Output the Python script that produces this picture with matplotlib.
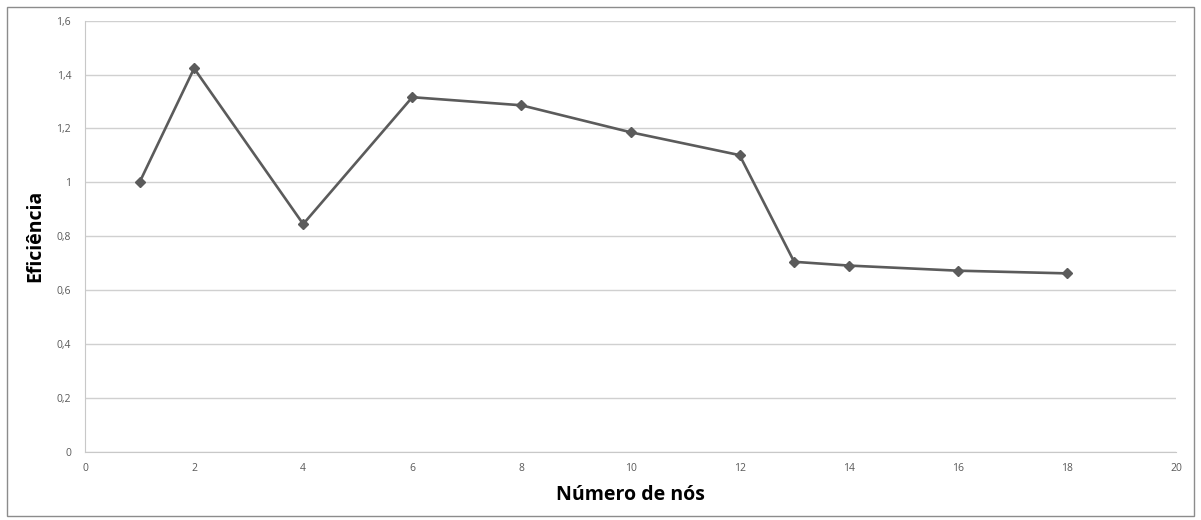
import matplotlib
matplotlib.use("Agg")
import matplotlib.pyplot as plt
from matplotlib.patches import Rectangle

nodes = [1, 2, 4, 6, 8, 10, 12, 13, 14, 16, 18]
efficiency = [1.0, 1.423, 0.845, 1.316, 1.286, 1.186, 1.101, 0.705, 0.691, 0.672, 0.662]
xticks = [0, 2, 4, 6, 8, 10, 12, 14, 16, 18, 20]
yticks = [0, 0.2, 0.4, 0.6, 0.8, 1.0, 1.2, 1.4, 1.6]
ytick_labels = ["0", "0,2", "0,4", "0,6", "0,8", "1", "1,2", "1,4", "1,6"]

plt.rcParams['font.family'] = ['Open Sans', 'DejaVu Sans']

fig = plt.figure(figsize=(12.01, 5.2), dpi=100)
fig.patches.append(Rectangle((7/1201, 4/520), 1187/1201, 509/520, transform=fig.transFigure,
                             fill=False, edgecolor='#8c8c8c', linewidth=1.0))
ax = fig.add_axes([85/1201, (520-451.7)/520, (1176-85)/1201, (451.7-20.7)/520])

ax.plot(nodes, efficiency, color='#5b5b5b', linewidth=1.9, marker='D', markersize=5.5,
        markerfacecolor='#5b5b5b', markeredgecolor='#5b5b5b', zorder=3)

ax.set_xlim(0, 20)
ax.set_ylim(0, 1.6)
ax.set_xticks(xticks)
ax.set_xticklabels([str(t) for t in xticks])
ax.set_yticks(yticks)
ax.set_yticklabels(ytick_labels)
ax.tick_params(axis='both', length=0, labelsize=7.5, labelcolor='#595959')
ax.tick_params(axis='x', pad=8)
ax.tick_params(axis='y', pad=10)
ax.grid(axis='y', color='#d0d0d0', linewidth=1.0)
ax.set_axisbelow(True)
for s in ['top', 'right']:
    ax.spines[s].set_visible(False)
ax.spines['left'].set_color('#c8c8c8')
ax.spines['bottom'].set_color('#c8c8c8')

ax.set_xlabel("Número de nós", fontsize=14, fontweight='bold', color='black', labelpad=8)
ax.set_ylabel("Eficiência", fontsize=14, fontweight='bold', color='black')
ax.yaxis.set_label_coords((45 - 85) / 1091, 0.5)

fig.savefig("out.png", dpi=100)
